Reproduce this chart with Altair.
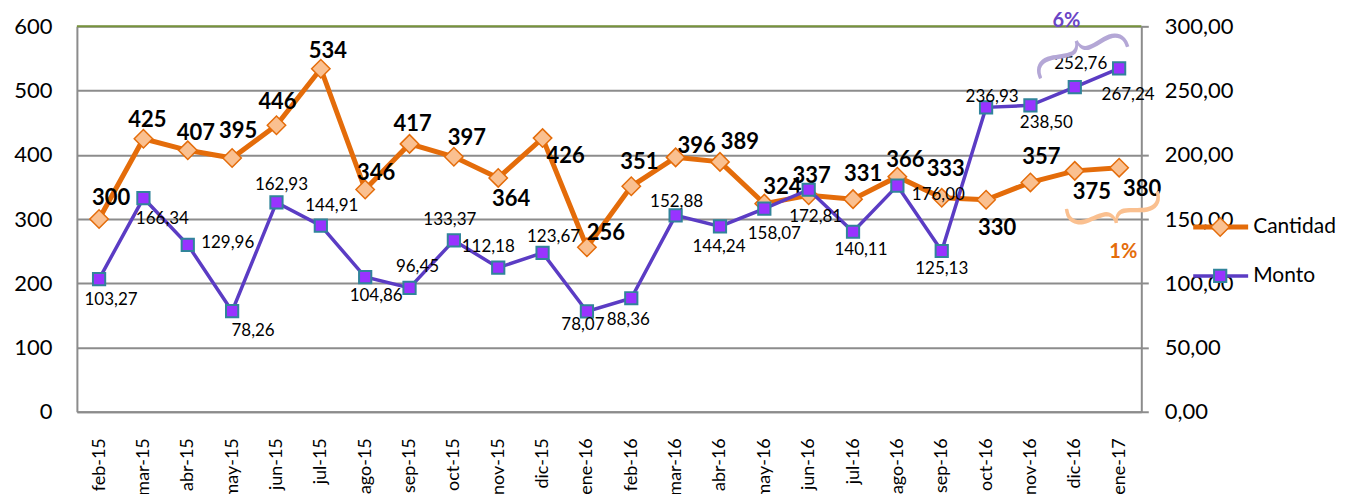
import altair as alt
import pandas as pd

# ---------------- data ----------------
meses = ["feb-15", "mar-15", "abr-15", "may-15", "jun-15", "jul-15", "ago-15", "sep-15",
         "oct-15", "nov-15", "dic-15", "ene-16", "feb-16", "mar-16", "abr-16", "may-16",
         "jun-16", "jul-16", "ago-16", "sep-16", "oct-16", "nov-16", "dic-16", "ene-17"]
cantidad = [300, 425, 407, 395, 446, 534, 346, 417, 397, 364, 426, 256,
            351, 396, 389, 324, 337, 331, 366, 333, 330, 357, 375, 380]
monto = [103.27, 166.34, 129.96, 78.26, 162.93, 144.91, 104.86, 96.45, 133.37, 112.18, 123.67, 78.07,
         88.36, 152.88, 144.24, 158.07, 172.81, 140.11, 176.00, 125.13, 236.93, 238.50, 252.76, 267.24]

# label placement (pixel offsets from each marker), styling only
cant_off = [(12, -21), (4, -19), (8, -17), (6, -27), (1, -23), (7, -18), (11, -17), (3, -20),
            (13, -19), (13, 21), (23, 18), (19, -14), (8, -24), (21, -11), (20, -20), (18, -17),
            (3, -19), (10, -25), (8, -17), (4, -29), (11, 28), (11, -25), (17, 21), (23, 21)]
monto_off = [(12, 21), (19, 21), (40, -2), (21, 20), (5, -17), (11, -20), (11, 19), (8, -21),
             (-4, -20), (-10, -21), (11, -16), (-4, 14), (-3, 22), (1, -13), (-1, 21), (10, 25),
             (7, 27), (8, 18), (41, 9), (0, 18), (6, -10), (16, 18), (6, -23), (9, 27)]

df = pd.DataFrame({"mes": meses, "cantidad": cantidad, "monto": monto})
df["cant_lbl"] = [str(v) for v in cantidad]
df["monto_lbl"] = [f"{v:.2f}".replace(".", ",") for v in monto]

W, H = 1066, 386
FONT = "Lato"
GRID = "#8c8c8c"
ORANGE = "#e46c0a"
ORANGE_FILL = "#fac090"
PURPLE = "#5b3cc4"
SQ_FILL = "#9933ff"
SQ_STROKE = "#31849b"

x = alt.X("mes:N", sort=meses, scale=alt.Scale(type="point", padding=0.5),
          axis=alt.Axis(title=None, labelAngle=-90, labelFontSize=18, labelFont=FONT,
                        labelColor="black", ticks=False, domainColor=GRID, domainWidth=2,
                        labelPadding=26, grid=False, zindex=0))

y_cant = alt.Y("cantidad:Q", scale=alt.Scale(domain=[0, 600], nice=False),
               axis=alt.Axis(title=None, orient="left", values=[0, 100, 200, 300, 400, 500, 600],
                             grid=True, gridColor=GRID, gridWidth=2, ticks=False,
                             domainColor=GRID, domainWidth=2, labelFontSize=22, labelFont=FONT,
                             labelColor="black", labelPadding=25, zindex=0))

y_monto = alt.Y("monto:Q", scale=alt.Scale(domain=[0, 300], nice=False),
                axis=alt.Axis(title=None, orient="right", values=[0, 50, 100, 150, 200, 250, 300],
                              grid=False, ticks=True, tickSize=7, tickColor=GRID, tickWidth=2,
                              domainColor=GRID, domainWidth=2, labelFontSize=22, labelFont=FONT,
                              labelColor="black", labelPadding=16,
                              labelExpr="replace(format(datum.value, '.2f'), '.', ',')",
                              zindex=0))

base = alt.Chart(df)

# Cantidad layers
cant_line = base.mark_line(color=ORANGE, strokeWidth=5).encode(x=x, y=y_cant)
cant_pts = base.mark_point(shape="diamond", filled=True, size=340, fill=ORANGE_FILL,
                           stroke=ORANGE, strokeWidth=1.5, opacity=1).encode(x=x, y=y_cant)
cant_labels = []
groups = {}
for m, off in zip(meses, cant_off):
    groups.setdefault(off, []).append(m)
for (dx, dy), ms in groups.items():
    cant_labels.append(
        base.mark_text(dx=dx, dy=dy, fontSize=22, fontWeight="bold", font=FONT, color="black",
                       align="center", baseline="middle")
        .encode(x=x, y=y_cant, text="cant_lbl:N")
        .transform_filter(alt.FieldOneOfPredicate(field="mes", oneOf=ms))
    )
cant_layer = alt.layer(cant_line, cant_pts, *cant_labels)

# Monto layers
monto_line = base.mark_line(color=PURPLE, strokeWidth=3.5).encode(x=x, y=y_monto)
monto_pts = base.mark_point(shape="square", filled=True, size=150, fill=SQ_FILL,
                            stroke=SQ_STROKE, strokeWidth=2, opacity=1).encode(x=x, y=y_monto)
monto_labels = []
groups = {}
for m, off in zip(meses, monto_off):
    groups.setdefault(off, []).append(m)
for (dx, dy), ms in groups.items():
    monto_labels.append(
        base.mark_text(dx=dx, dy=dy, fontSize=17, font=FONT, color="black",
                       align="center", baseline="middle")
        .encode(x=x, y=y_monto, text="monto_lbl:N")
        .transform_filter(alt.FieldOneOfPredicate(field="mes", oneOf=ms))
    )
monto_layer = alt.layer(monto_line, monto_pts, *monto_labels)

# decorations
one = alt.Data(values=[{"k": 1}])
deco = alt.Chart(one)
top_rule = deco.mark_rule(color="#77933c", strokeWidth=2).encode(
    x=alt.value(0), x2=alt.value(W), y=alt.value(0))

leg_c_line = deco.mark_rule(color=ORANGE, strokeWidth=5).encode(
    x=alt.value(1118), x2=alt.value(1173), y=alt.value(201))
leg_c_pt = deco.mark_point(shape="diamond", filled=True, size=340, fill=ORANGE_FILL,
                           stroke=ORANGE, strokeWidth=1.5, opacity=1).encode(
    x=alt.value(1145), y=alt.value(201))
leg_c_txt = deco.mark_text(align="left", baseline="middle", fontSize=21, font=FONT,
                           color="black").encode(
    x=alt.value(1178), y=alt.value(201), text=alt.value("Cantidad"))
leg_m_line = deco.mark_rule(color=PURPLE, strokeWidth=3.5).encode(
    x=alt.value(1118), x2=alt.value(1173), y=alt.value(250))
leg_m_pt = deco.mark_point(shape="square", filled=True, size=150, fill=SQ_FILL,
                           stroke=SQ_STROKE, strokeWidth=2, opacity=1).encode(
    x=alt.value(1145), y=alt.value(250))
leg_m_txt = deco.mark_text(align="left", baseline="middle", fontSize=21, font=FONT,
                           color="black").encode(
    x=alt.value(1178), y=alt.value(250), text=alt.value("Monto"))

pct6 = deco.mark_text(fontSize=20, fontWeight="bold", font=FONT, color="#6a45c6",
                      baseline="top").encode(
    x=alt.value(991), y=alt.value(-15), text=alt.value("6%"))
pct1 = deco.mark_text(fontSize=20, fontWeight="bold", font=FONT, color=ORANGE).encode(
    x=alt.value(1048), y=alt.value(226), text=alt.value("1%"))
brace6 = deco.mark_text(fontSize=108, font=FONT, fontWeight=300, color="#b4a7d6", angle=70,
                        align="center", baseline="middle").encode(
    x=alt.value(1003), y=alt.value(26), text=alt.value("{"))
brace1 = deco.mark_text(fontSize=108, font=FONT, fontWeight=300, color=ORANGE_FILL, angle=79,
                        align="center", baseline="middle").encode(
    x=alt.value(1037), y=alt.value(186), text=alt.value("}"))

chart = alt.layer(
    cant_layer, monto_layer, top_rule,
    leg_c_line, leg_c_pt, leg_c_txt, leg_m_line, leg_m_pt, leg_m_txt,
    pct6, pct1, brace6, brace1
).resolve_scale(y="independent").properties(
    width=W, height=H,
    autosize=alt.AutoSizeParams(type="none"),
    padding={"left": 69, "top": 18, "right": 204, "bottom": 82},
).configure_view(stroke=None)

chart.save("out.html", embed_options={"renderer": "svg", "actions": False})
